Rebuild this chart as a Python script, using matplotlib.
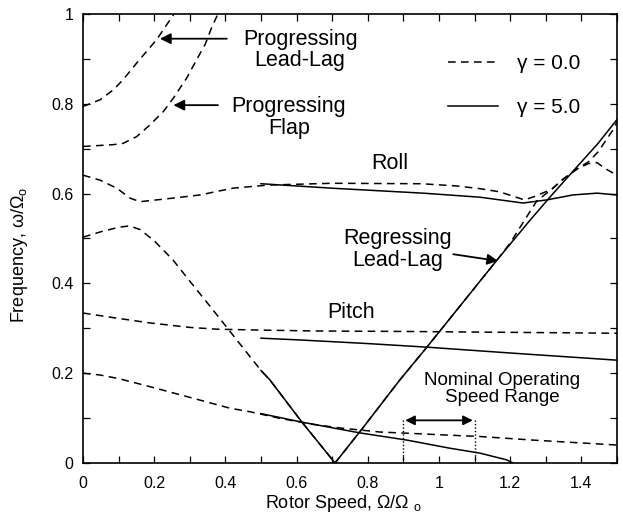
import numpy as np
import matplotlib
matplotlib.use("Agg")
import matplotlib.pyplot as plt
from matplotlib.ticker import MultipleLocator, FixedLocator

plt.rcParams['font.family'] = ['Liberation Sans', 'DejaVu Sans']
plt.rcParams['mathtext.fontset'] = 'custom'
plt.rcParams['mathtext.rm'] = 'Liberation Sans'

# ---- gamma = 0.0 (dashed) ----
prog_leadlag_x = [0.0, 0.048, 0.085, 0.113, 0.151, 0.179, 0.207, 0.235, 0.254, 0.27]
prog_leadlag_y = [0.794, 0.809, 0.831, 0.854, 0.891, 0.917, 0.943, 0.976, 0.998, 1.02]

prog_flap_x = [0.0, 0.085, 0.113, 0.151, 0.188, 0.226, 0.254, 0.291, 0.319, 0.343, 0.361, 0.376, 0.385]
prog_flap_y = [0.705, 0.709, 0.712, 0.727, 0.753, 0.783, 0.813, 0.857, 0.898, 0.932, 0.969, 0.995, 1.01]

roll0_x = [0.0, 0.048, 0.095, 0.132, 0.16, 0.207, 0.253, 0.329, 0.42, 0.52, 0.7, 0.95, 1.05, 1.115,
           1.17, 1.24, 1.27, 1.317, 1.35, 1.388, 1.42, 1.444, 1.466, 1.5]
roll0_y = [0.641, 0.63, 0.612, 0.59, 0.582, 0.586, 0.59, 0.597, 0.612, 0.619, 0.623, 0.622, 0.617, 0.611,
           0.604, 0.586, 0.594, 0.61, 0.633, 0.655, 0.667, 0.669, 0.656, 0.641]

regll0_x = [0.0, 0.05, 0.1, 0.13, 0.16, 0.2, 0.253, 0.3, 0.366, 0.5, 0.525, 0.615, 0.708, 0.784, 0.89,
            0.966, 1.166, 1.2, 1.25, 1.275, 1.317, 1.35, 1.388, 1.42, 1.447, 1.489, 1.5]
regll0_y = [0.503, 0.515, 0.525, 0.528, 0.52, 0.495, 0.452, 0.405, 0.34, 0.206, 0.185, 0.091, 0.0, 0.076, 0.185,
            0.258, 0.455, 0.49, 0.553, 0.584, 0.61, 0.633, 0.655, 0.671, 0.693, 0.742, 0.76]

pitch0_x = [0.0, 0.1, 0.188, 0.3, 0.376, 0.5, 0.657, 0.9, 1.2, 1.5]
pitch0_y = [0.334, 0.322, 0.312, 0.302, 0.298, 0.296, 0.294, 0.293, 0.291, 0.289]

low0_x = [0.0, 0.048, 0.1, 0.188, 0.329, 0.413, 0.47, 0.55, 0.638, 0.722, 0.834, 0.92, 1.0, 1.115, 1.264, 1.5]
low0_y = [0.2, 0.196, 0.188, 0.17, 0.14, 0.122, 0.114, 0.1, 0.087, 0.078, 0.069, 0.066, 0.063, 0.059, 0.051, 0.04]

# ---- gamma = 5.0 (solid) ----
roll5_x = [0.5, 0.7, 0.955, 1.115, 1.236, 1.303, 1.376, 1.444, 1.5]
roll5_y = [0.622, 0.612, 0.601, 0.592, 0.579, 0.586, 0.597, 0.601, 0.597]

regll5_x = [0.5, 0.525, 0.615, 0.708, 0.784, 0.89, 0.966, 1.166, 1.256, 1.317, 1.388, 1.447, 1.503]
regll5_y = [0.206, 0.185, 0.091, 0.0, 0.076, 0.185, 0.258, 0.455, 0.541, 0.597, 0.66, 0.712, 0.768]

pitch5_x = [0.5, 0.61, 0.8, 0.966, 1.2, 1.5]
pitch5_y = [0.278, 0.274, 0.266, 0.258, 0.245, 0.229]

low5_x = [0.5, 0.615, 0.778, 0.91, 1.03, 1.115, 1.19, 1.208]
low5_y = [0.11, 0.091, 0.067, 0.051, 0.033, 0.022, 0.007, 0.0]

# nominal operating speed range
nominal_range = [0.9, 1.1]

x_ticks = [0, 0.2, 0.4, 0.6, 0.8, 1.0, 1.2, 1.4]
x_tick_labels = ["0", "0.2", "0.4", "0.6", "0.8", "1", "1.2", "1.4"]
y_ticks = [0, 0.2, 0.4, 0.6, 0.8, 1.0]
y_tick_labels = ["0", "0.2", "0.4", "0.6", "0.8", "1"]

fig = plt.figure(figsize=(6.23, 5.28), dpi=100)
ax = fig.add_axes([83 / 623, 65 / 528, 534 / 623, 449 / 528])

dash = (0, (5, 3.5))
lw = 1.1
kd = dict(color='black', lw=lw, linestyle=dash)
ks = dict(color='black', lw=lw, linestyle='-')

h0, = ax.plot(prog_leadlag_x, prog_leadlag_y, **kd)
ax.plot(prog_flap_x, prog_flap_y, **kd)
ax.plot(roll0_x, roll0_y, **kd)
ax.plot(regll0_x, regll0_y, **kd)
ax.plot(pitch0_x, pitch0_y, **kd)
ax.plot(low0_x, low0_y, **kd)

h5, = ax.plot(roll5_x, roll5_y, **ks)
ax.plot(regll5_x, regll5_y, **ks)
ax.plot(pitch5_x, pitch5_y, **ks)
ax.plot(low5_x, low5_y, **ks)

ax.set_xlim(0, 1.5)
ax.set_ylim(0, 1)

ax.xaxis.set_major_locator(FixedLocator(x_ticks))
ax.set_xticklabels(x_tick_labels)
ax.yaxis.set_major_locator(FixedLocator(y_ticks))
ax.set_yticklabels(y_tick_labels)
ax.xaxis.set_minor_locator(MultipleLocator(0.1))
ax.yaxis.set_minor_locator(MultipleLocator(0.1))
ax.tick_params(which='both', direction='in', length=5, width=0.9,
               top=True, right=True, labelsize=11.5)
ax.tick_params(axis='x', pad=9)
ax.tick_params(axis='y', pad=7)
for s in ax.spines.values():
    s.set_linewidth(1.2)

# nominal operating range bracket
for xv in nominal_range:
    ax.plot([xv, xv], [0, 0.098], color='black', lw=1.0, linestyle=(0, (1, 1.5)))
ax.annotate('', xy=(nominal_range[0] + 0.005, 0.095), xytext=(nominal_range[1] - 0.005, 0.095),
            arrowprops=dict(arrowstyle='<|-|>', color='black', lw=1.3,
                            mutation_scale=14, shrinkA=0, shrinkB=0))
ax.text(1.177, 0.165, "Nominal Operating\nSpeed Range", ha='center', va='center',
        fontsize=13.5, linespacing=1.0)

# mode labels
lab = dict(ha='center', va='center', fontsize=15.5, linespacing=1.05)
ax.text(0.61, 0.92, "Progressing\nLead-Lag", **lab)
ax.text(0.578, 0.77, "Progressing\nFlap", **lab)
ax.text(0.862, 0.668, "Roll", **lab)
ax.text(0.883, 0.476, "Regressing\nLead-Lag", **lab)
ax.text(0.753, 0.336, "Pitch", **lab)

arrow = dict(arrowstyle='-|>', color='black', lw=1.3, mutation_scale=16, shrinkA=0, shrinkB=0)
ax.annotate('', xy=(0.216, 0.945), xytext=(0.404, 0.945), arrowprops=arrow)
ax.annotate('', xy=(0.254, 0.797), xytext=(0.379, 0.797), arrowprops=arrow)
ax.annotate('', xy=(1.166, 0.45), xytext=(1.04, 0.465), arrowprops=arrow)

ax.legend([h0, h5], ["γ = 0.0", "γ = 5.0"], loc='upper left',
          bbox_to_anchor=(1.025, 0.911), bbox_transform=ax.transData,
          frameon=False, fontsize=15, handlelength=2.4, handletextpad=0.9,
          labelspacing=1.22, borderpad=0, borderaxespad=0)

fig.text(343 / 623, 1 - 503 / 528, "Rotor Speed, Ω/Ω $_\\mathregular{o}$", ha='center', va='center', fontsize=13)
fig.text(20 / 623, 1 - 255 / 528, "Frequency, ω/Ω$_\\mathregular{o}$", ha='center', va='center',
         rotation=90, fontsize=13)

fig.savefig("out.png", dpi=100)
